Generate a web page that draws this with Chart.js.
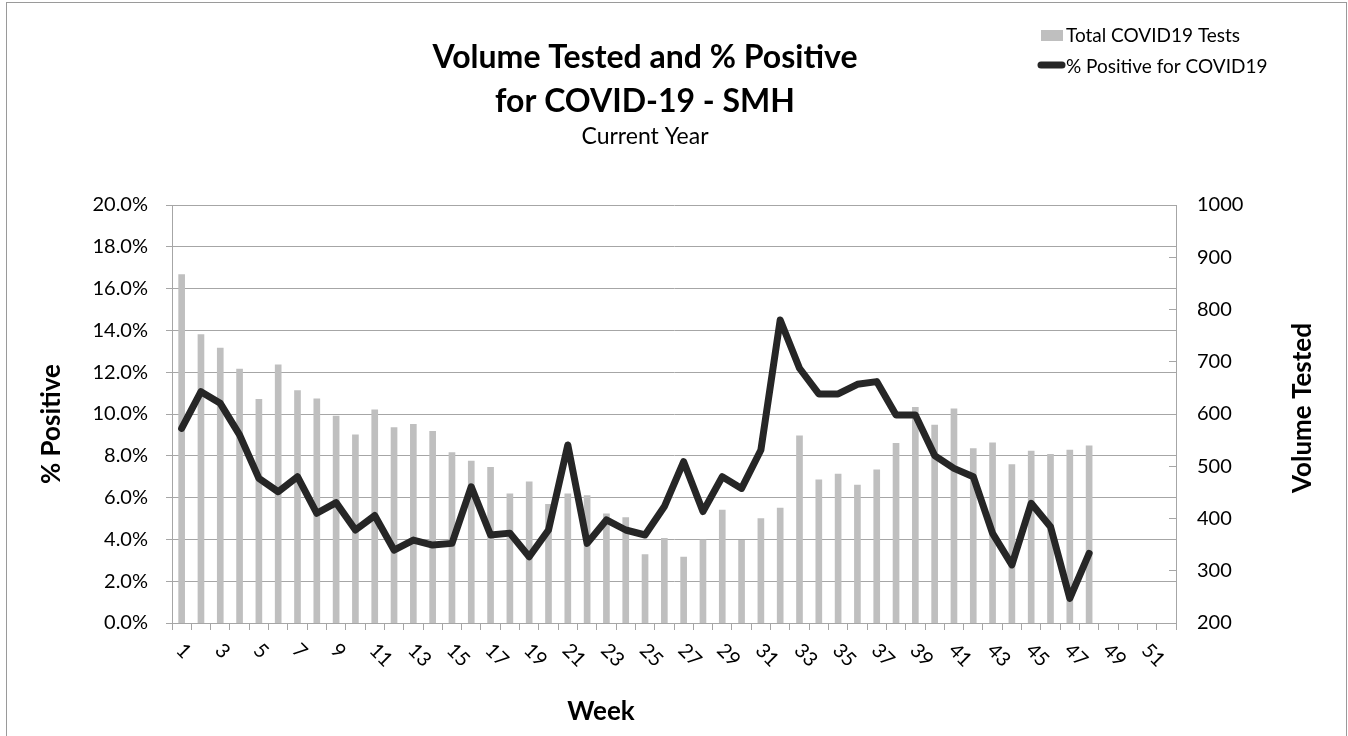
<!DOCTYPE html>
<html>
<head>
<meta charset="utf-8">
<script src="https://cdn.jsdelivr.net/npm/chart.js@4"></script>
<style>
  body { margin: 0; background: #fff; }
  #wrap { width: 1348px; height: 736px; position: relative; }
</style>
</head>
<body>
<div id="wrap"><canvas id="myChart"></canvas></div>
<script>
// data
const weeks = ['1','2','3','4','5','6','7','8','9','10','11','12','13','14','15','16','17','18','19','20',
               '21','22','23','24','25','26','27','28','29','30','31','32','33','34','35','36','37','38','39','40',
               '41','42','43','44','45','46','47','48','49','50','51','52'];
const tests = [867,752,726,686,628,694,645,629,596,560,
               608,574,580,567,526,510,498,447,470,427,
               447,444,409,402,331,362,326,359,416,358,
               400,420,558,474,485,464,493,544,613,579,
               610,534,545,503,529,523,531,539];
const positive = [9.31,11.07,10.51,9.0,6.92,6.28,7.0,5.25,5.76,4.45,
                  5.14,3.49,3.97,3.73,3.81,6.52,4.21,4.3,3.17,4.45,
                  8.52,3.81,4.93,4.45,4.21,5.57,7.72,5.33,7.0,6.44,
                  8.28,14.5,12.19,10.96,10.96,11.42,11.55,9.95,9.95,8.01,
                  7.4,7.0,4.29,2.78,5.73,4.61,1.18,3.33];

const titleLines = ['Volume Tested and % Positive', 'for COVID-19 - SMH'];
const subTitle = 'Current Year';

const gridColor = '#a6a6a6';
const fontName = 'Lato';
Chart.defaults.font.family = fontName;
Chart.defaults.color = '#000';

// title, legend, axis titles, slanted week labels and frame
const decor = {
    id: 'decor',
    beforeDraw(chart){
        const c = chart.ctx;
        c.save();
        c.fillStyle = '#fff';
        c.fillRect(0, 0, chart.width, chart.height);
        c.strokeStyle = '#9a9a9a';
        c.lineWidth = 1;
        c.strokeRect(6.5, 2.5, chart.width - 8, chart.height + 20);
        c.restore();
    },
    afterDraw(chart){
        const c = chart.ctx;
        const area = chart.chartArea;
        c.save();
        c.fillStyle = '#000';
        c.textAlign = 'center';
        c.textBaseline = 'alphabetic';

        // chart title
        c.font = `bold 32px ${fontName}`;
        c.fillText(titleLines[0], 645, 68);
        c.fillText(titleLines[1], 645, 112);
        c.font = `23px ${fontName}`;
        c.fillText(subTitle, 645, 144);

        // legend
        const ds = chart.data.datasets;
        c.textAlign = 'left';
        c.font = `19px ${fontName}`;
        c.fillStyle = ds[1].backgroundColor;
        c.fillRect(1041, 30, 22, 11);
        c.fillStyle = '#000';
        c.fillText(ds[1].label, 1066, 42);
        c.strokeStyle = ds[0].borderColor;
        c.lineWidth = 7;
        c.lineCap = 'round';
        c.beginPath();
        c.moveTo(1041, 65);
        c.lineTo(1062, 65);
        c.stroke();
        c.fillText(ds[0].label, 1066, 73);

        // axis titles
        c.font = `bold 26px ${fontName}`;
        c.textAlign = 'center';
        c.textBaseline = 'middle';
        c.save();
        c.translate(52, 424);
        c.rotate(-Math.PI / 2);
        c.fillText('% Positive', 0, 0);
        c.restore();
        c.save();
        c.translate(1303, 408);
        c.rotate(-Math.PI / 2);
        c.fillText('Volume Tested', 0, 0);
        c.restore();
        c.textBaseline = 'alphabetic';
        c.fillText('Week', 601, 720);

        // week labels, every other one, slanted down to the right
        const xs = chart.scales.x;
        c.font = `20px ${fontName}`;
        c.textAlign = 'left';
        c.textBaseline = 'middle';
        weeks.forEach((w, i) => {
            if (i % 2) return;
            const px = xs.getPixelForValue(i);
            c.save();
            c.translate(px - 2, area.bottom + 24);
            c.rotate(Math.PI / 4);
            c.fillText(w, 0, 0);
            c.restore();
        });
        c.restore();
    }
};

const ctx = document.getElementById('myChart');

new Chart(ctx, {
    type: 'bar',
    data: {
        labels: weeks,
        datasets: [{
            type: 'line',
            label: '% Positive for COVID19',
            data: positive,
            yAxisID: 'y',
            borderColor: '#262626',
            backgroundColor: '#262626',
            borderWidth: 7,
            borderCapStyle: 'round',
            borderJoinStyle: 'round',
            pointRadius: 0,
            tension: 0,
            order: 0
        }, {
            type: 'bar',
            label: 'Total COVID19 Tests',
            data: tests,
            yAxisID: 'y1',
            backgroundColor: '#bfbfbf',
            barThickness: 6,
            order: 1
        }]
    },
    options: {
        responsive: true,
        maintainAspectRatio: false,
        animation: false,
        layout: { padding: { top: 205, left: 0, right: 0, bottom: 0 } },
        plugins: {
            legend: { display: false },
            title: { display: false },
            tooltip: { enabled: false }
        },
        scales: {
            x: {
                afterFit: s => { s.height = 113; },
                ticks: { display: false, autoSkip: false },
                grid: { drawOnChartArea: false, offset: true, tickLength: 7, color: gridColor },
                border: { color: gridColor }
            },
            y: {
                position: 'left',
                min: 0,
                max: 20,
                afterFit: s => { s.width = 172; },
                ticks: {
                    stepSize: 2,
                    padding: 18,
                    font: { size: 20 },
                    callback: v => v.toFixed(1) + '%'
                },
                grid: { color: gridColor, tickLength: 6 },
                border: { color: gridColor }
            },
            y1: {
                position: 'right',
                min: 200,
                max: 1000,
                afterFit: s => { s.width = 172; },
                ticks: { stepSize: 100, padding: 28, font: { size: 20 }, callback: v => String(v) },
                grid: { drawOnChartArea: false, tickLength: -7, color: gridColor },
                border: { color: gridColor }
            }
        }
    },
    plugins: [decor]
});
</script>
</body>
</html>
